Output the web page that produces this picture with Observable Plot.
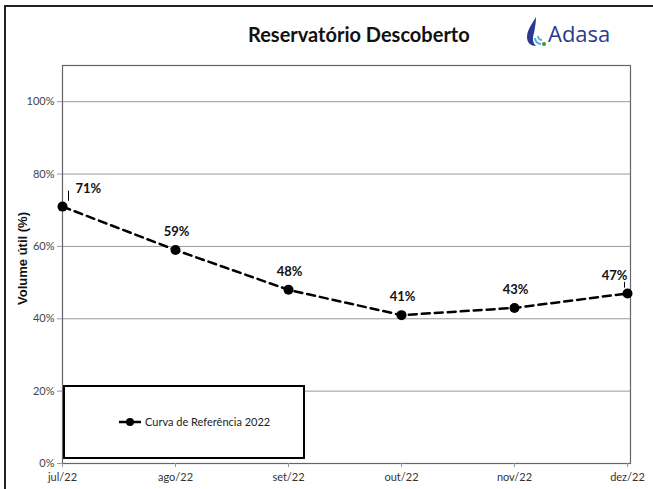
<!DOCTYPE html>
<html>
<head>
<meta charset="utf-8">
<script src="https://cdn.jsdelivr.net/npm/d3@7"></script>
<script src="https://cdn.jsdelivr.net/npm/@observablehq/plot@0.6"></script>
<style>
  html, body { margin: 0; padding: 0; background: #fff; overflow: hidden; }
  #wrap { position: relative; width: 653px; height: 489px; overflow: hidden; background: #fff; }
  #border { position: absolute; left: 4px; top: 5px; width: 700px; height: 600px; border-left: 2px solid #222; border-top: 2px solid #222; }
  #chart { position: absolute; left: 0; top: 0; }
  #title { position: absolute; left: 248px; width: 214px; top: 22px; text-align: center; white-space: nowrap; font-family: Lato, sans-serif; font-weight: bold; font-size: 20px; color: #111; }
  #logo { position: absolute; left: 524px; top: 16px; width: 110px; height: 36px; }
  #logo span { position: absolute; left: 24px; top: 2px; font-family: "Open Sans", "Liberation Sans", sans-serif; font-size: 22px; color: #2b3a8f; }
  #legend { position: absolute; left: 63px; top: 385px; width: 238px; height: 70px; border: 2px solid #000; background: #fff; }
  #legend svg { position: absolute; left: 54px; top: 30px; }
  #legend span { position: absolute; left: 80px; top: 28px; font-family: Lato, sans-serif; font-size: 11px; color: #222; white-space: nowrap; }
</style>
</head>
<body>
<div id="wrap">
  <div id="border"></div>
  <div id="chart"></div>
  <div id="title">Reservatório Descoberto</div>
  <div id="logo">
    <svg width="24" height="32" viewBox="0 0 24 32">
      <path d="M12 1 C8 8 3 14 3 21 C3 27 7 30 12 30 C9 27 8 23 10 17 C11 12 12 6 12 1 Z" fill="#2b3a8f"/>
      <path d="M11 22 A6 6 0 0 0 17 28" stroke="#5aaee0" stroke-width="2" fill="none"/>
      <path d="M14 20 A4 4 0 0 0 18 24" stroke="#5aaee0" stroke-width="2" fill="none"/>
      <circle cx="20" cy="28" r="2" fill="#2a9d3b"/>
    </svg>
    <span>Adasa</span>
  </div>
  <div id="legend">
    <svg width="24" height="10"><line x1="0" y1="5" x2="22" y2="5" stroke="#000" stroke-width="2.5"/><circle cx="11" cy="5" r="4" fill="#000"/></svg>
    <span>Curva de Referência 2022</span>
  </div>
</div>
<script>
const months = ["jul/22", "ago/22", "set/22", "out/22", "nov/22", "dez/22"];
const values = [71, 59, 48, 41, 43, 47];
const yTicks = [0, 20, 40, 60, 80, 100];

const data = months.map((m, i) => ({month: m, value: values[i]}));
const first = data.slice(0, 1);
const middle = data.slice(1, 5);
const last = data.slice(5);
const font = 'Lato, sans-serif';

const chart = Plot.plot({
  width: 653,
  height: 489,
  marginLeft: 62,
  marginRight: 23,
  marginTop: 65,
  marginBottom: 26,
  style: {background: "transparent", fontFamily: font, fontSize: "11px", color: "#444"},
  x: {type: "point", domain: months, range: [62, 627], padding: 0},
  y: {domain: [0, 110]},
  marks: [
    Plot.ruleY(yTicks.slice(1), {stroke: "#999", strokeWidth: 1}),
    Plot.frame({stroke: "#666", strokeWidth: 1.2}),
    Plot.axisY({ticks: yTicks, tickFormat: d => d + "%", tickSize: 5, tickPadding: 3, stroke: "#999", fill: "#444", fontSize: 11, label: null}),
    Plot.axisX({tickSize: 4, tickPadding: 6, stroke: "#999", fill: "#333", fontSize: 11, label: null}),
    Plot.line(data, {x: "month", y: "value", stroke: "#000", strokeWidth: 2.5, strokeDasharray: "8,5"}),
    Plot.dot(data, {x: "month", y: "value", r: 5, fill: "#000"}),
    Plot.link(first, {x1: "month", x2: "month", y1: d => d.value + 1.6, y2: d => d.value + 4.4, dx: 6, stroke: "#000", strokeWidth: 1}),
    Plot.link(last, {x1: "month", x2: "month", y1: d => d.value + 1.6, y2: d => d.value + 3.2, dx: -3, stroke: "#000", strokeWidth: 1}),
    Plot.text(first, {x: "month", y: "value", text: d => d.value + "%", dx: 13, dy: -18, textAnchor: "start", fontWeight: "bold", fontSize: 13, fill: "#111"}),
    Plot.text(middle, {x: "month", y: "value", text: d => d.value + "%", dx: 1, dy: -18, fontWeight: "bold", fontSize: 13, fill: "#111"}),
    Plot.text(last, {x: "month", y: "value", text: d => d.value + "%", dx: -13, dy: -18, fontWeight: "bold", fontSize: 13, fill: "#111"}),
    Plot.text(["Volume útil (%)"], {frameAnchor: "left", textAnchor: "middle", dx: -40, dy: -6, rotate: -90, fontWeight: "bold", fontSize: 13, fontFamily: '"Liberation Sans", Arial, sans-serif', fill: "#111"})
  ]
});
document.getElementById("chart").appendChild(chart);
</script>
</body>
</html>
